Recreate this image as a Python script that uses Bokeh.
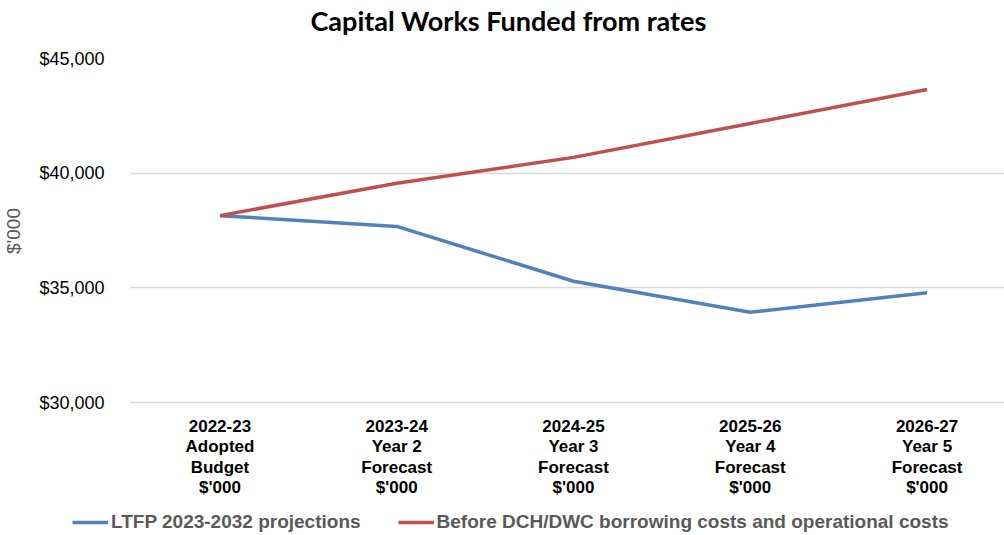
from bokeh.plotting import figure
from bokeh.layouts import column
from bokeh.models import FixedTicker, Legend, LegendItem, Range1d, NumeralTickFormatter, Label
from bokeh.embed import file_html
from bokeh.resources import INLINE

title_text = "Capital Works Funded from rates"
categories = ["2022-23\nAdopted\nBudget\n$'000",
              "2023-24\nYear 2\nForecast\n$'000",
              "2024-25\nYear 3\nForecast\n$'000",
              "2025-26\nYear 4\nForecast\n$'000",
              "2026-27\nYear 5\nForecast\n$'000"]
ltfp = [38150, 37680, 35290, 33940, 34790]
before_dch = [38150, 39560, 40690, 42170, 43650]
series_names = ["LTFP 2023-2032 projections",
                "Before DCH/DWC borrowing costs and operational costs"]
y_ticks = [30000, 35000, 40000, 45000]
colors = ["#4F81BD", "#C0504D"]

xs = list(range(len(categories)))

# ---- title strip
tf = figure(width=1004, height=40, output_backend="svg", toolbar_location=None,
            x_range=Range1d(0, 1), y_range=Range1d(0, 1),
            min_border_left=0, min_border_right=0, min_border_top=0, min_border_bottom=0,
            outline_line_color=None)
tf.frame_align = False
tf.axis.visible = False
tf.grid.grid_line_color = None
tf.add_layout(Label(x=508, y=20, x_units="screen", y_units="screen", text=title_text,
                    text_align="center", text_baseline="middle",
                    text_font="Lato", text_font_size="27px", text_font_style="bold",
                    text_color="#000000"))

# ---- main chart
p = figure(width=1004, height=465, output_backend="svg", toolbar_location=None,
           x_range=Range1d(-0.506, 4.438), y_range=Range1d(29960, 45000),
           min_border_left=124, min_border_right=0, min_border_top=18, min_border_bottom=102,
           outline_line_color=None)

p.line(xs, ltfp, line_color=colors[0], line_width=3.5)
p.line(xs, before_dch, line_color=colors[1], line_width=3.5)

p.xaxis.ticker = FixedTicker(ticks=xs)
p.xaxis.major_label_overrides = {i: c for i, c in enumerate(categories)}
p.xaxis.major_label_text_font = "Liberation Sans"
p.xaxis.major_label_text_font_style = "bold"
p.xaxis.major_label_text_font_size = "17px"
p.xaxis.major_label_text_color = "#000000"
p.xaxis.major_label_text_line_height = 1.08
p.xaxis.major_label_standoff = 7
p.xaxis.axis_line_color = None
p.xaxis.major_tick_line_color = None
p.xaxis.minor_tick_line_color = None

p.yaxis.ticker = FixedTicker(ticks=y_ticks)
p.yaxis.formatter = NumeralTickFormatter(format="$0,0")
p.yaxis.major_label_text_font = "Liberation Sans"
p.yaxis.major_label_text_font_size = "18px"
p.yaxis.major_label_text_color = "#000000"
p.yaxis.major_label_standoff = 20
p.yaxis.axis_line_color = None
p.yaxis.major_tick_line_color = None
p.yaxis.minor_tick_line_color = None
p.yaxis.axis_label = "$'000"
p.yaxis.axis_label_text_font = "Liberation Sans"
p.yaxis.axis_label_text_font_size = "19px"
p.yaxis.axis_label_text_font_style = "normal"
p.yaxis.axis_label_text_color = "#595959"
p.yaxis.axis_label_standoff = 12

p.xgrid.grid_line_color = None
p.ygrid.grid_line_color = "#d9d9d9"
p.ygrid.grid_line_width = 1.5

# ---- legend strip (series drawn off-range so only the legend shows)
lf = figure(width=1004, height=30, output_backend="svg", toolbar_location=None,
            x_range=Range1d(0, 1), y_range=Range1d(0, 1),
            min_border_left=70, min_border_right=0, min_border_top=0, min_border_bottom=0,
            outline_line_color=None)
lf.frame_align = False
lf.axis.visible = False
lf.grid.grid_line_color = None
r1 = lf.line(xs, ltfp, line_color=colors[0], line_width=3.5)
r2 = lf.line(xs, before_dch, line_color=colors[1], line_width=3.5)
legend = Legend(items=[LegendItem(label=series_names[0], renderers=[r1]),
                       LegendItem(label=series_names[1], renderers=[r2])],
                orientation="horizontal", location="bottom_left",
                glyph_width=36, label_standoff=3, spacing=37,
                padding=0, margin=2, border_line_color=None, background_fill_alpha=0,
                label_text_font="Liberation Sans", label_text_font_style="bold",
                label_text_font_size="19px", label_text_color="#595959")
lf.add_layout(legend, "center")

open("out.html", "w").write(file_html(column(tf, p, lf, spacing=0), INLINE))
